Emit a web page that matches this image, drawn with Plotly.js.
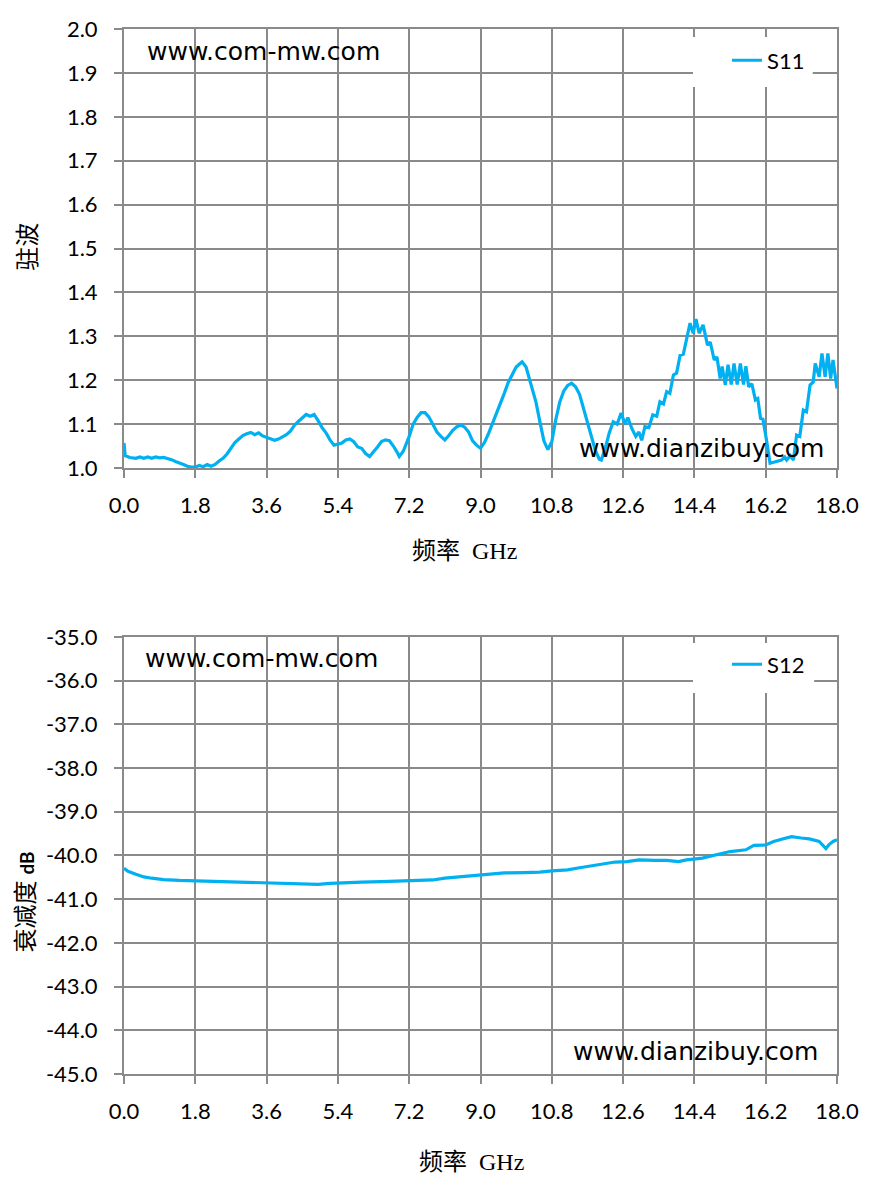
<!DOCTYPE html>
<html>
<head>
<meta charset="utf-8">
<script src="https://cdn.plot.ly/plotly-3.0.1.min.js"></script>
<style>
  html, body { margin: 0; padding: 0; background: #ffffff; }
  #chart { width: 877px; height: 1188px; }
</style>
</head>
<body>
<div id="chart"></div>
<script>
// S11 standing-wave ratio vs frequency (GHz)
const S11_FREQ = [
  0.00, 0.03, 0.15, 0.3, 0.4, 0.5, 0.6, 0.7, 0.8, 0.9, 1.0, 1.1, 1.2, 1.3, 1.4, 1.5, 1.6, 1.7, 1.8, 1.9,
  2.0, 2.1, 2.2, 2.3, 2.4, 2.5, 2.6, 2.7, 2.8, 2.9, 3.0, 3.1, 3.2, 3.3, 3.4, 3.5, 3.6, 3.7, 3.8, 3.9,
  4.0, 4.1, 4.2, 4.3, 4.4, 4.5, 4.6, 4.7, 4.8, 4.9, 5.0, 5.1, 5.2, 5.3, 5.4, 5.5, 5.6, 5.7, 5.8, 5.9,
  6.0, 6.1, 6.2, 6.3, 6.4, 6.5, 6.6, 6.7, 6.8, 6.9, 6.95, 7.05, 7.2, 7.3, 7.4, 7.5, 7.6, 7.7, 7.8, 7.9,
  8.0, 8.1, 8.2, 8.3, 8.4, 8.5, 8.6, 8.7, 8.8, 8.9, 9.0, 9.1, 9.2, 9.3, 9.4, 9.5, 9.6, 9.7, 9.8, 9.9,
  10.0, 10.05, 10.15, 10.3, 10.4, 10.5, 10.6, 10.7, 10.8, 10.9, 11.0, 11.1, 11.2, 11.3, 11.4, 11.5, 11.6, 11.7, 11.8, 11.9,
  12.0, 12.05, 12.15, 12.25, 12.35, 12.45, 12.55, 12.65, 12.72, 12.82, 12.92, 13.0, 13.07, 13.15, 13.25, 13.35, 13.45, 13.53, 13.62, 13.7,
  13.78, 13.87, 13.95, 14.04, 14.12, 14.2, 14.29, 14.37, 14.44, 14.52, 14.62, 14.73, 14.8, 14.9, 14.97, 15.05, 15.1, 15.18, 15.25, 15.33,
  15.4, 15.48, 15.56, 15.64, 15.7, 15.77, 15.85, 15.94, 16.0, 16.07, 16.13, 16.22, 16.31, 16.4, 16.5, 16.6, 16.68, 16.73, 16.82, 16.9,
  16.98, 17.06, 17.15, 17.23, 17.32, 17.4, 17.45, 17.55, 17.62, 17.7, 17.77, 17.84, 17.9, 18.0
];
const S11_VSWR = [
  1.057, 1.028, 1.024, 1.022, 1.025, 1.022, 1.025, 1.022, 1.025, 1.023, 1.024, 1.022, 1.019, 1.015, 1.012, 1.008, 1.004, 1.002, 1.002, 1.006,
  1.003, 1.008, 1.004, 1.008, 1.016, 1.022, 1.032, 1.045, 1.058, 1.066, 1.074, 1.078, 1.081, 1.076, 1.080, 1.073, 1.070, 1.066, 1.063, 1.066,
  1.070, 1.076, 1.084, 1.097, 1.106, 1.115, 1.122, 1.118, 1.122, 1.108, 1.092, 1.080, 1.064, 1.052, 1.055, 1.057, 1.064, 1.066, 1.060, 1.048,
  1.045, 1.033, 1.026, 1.036, 1.048, 1.060, 1.064, 1.062, 1.050, 1.035, 1.026, 1.038, 1.072, 1.100, 1.115, 1.126, 1.126, 1.116, 1.098, 1.082,
  1.072, 1.064, 1.074, 1.086, 1.094, 1.098, 1.093, 1.082, 1.062, 1.052, 1.045, 1.058, 1.078, 1.100, 1.125, 1.145, 1.170, 1.195, 1.212, 1.230,
  1.238, 1.242, 1.230, 1.185, 1.150, 1.105, 1.062, 1.042, 1.060, 1.110, 1.150, 1.175, 1.188, 1.193, 1.185, 1.168, 1.135, 1.105, 1.075, 1.040,
  1.020, 1.018, 1.045, 1.080, 1.105, 1.100, 1.125, 1.100, 1.115, 1.090, 1.072, 1.082, 1.063, 1.094, 1.092, 1.121, 1.118, 1.151, 1.146, 1.174,
  1.170, 1.212, 1.216, 1.257, 1.259, 1.292, 1.330, 1.307, 1.339, 1.307, 1.326, 1.280, 1.287, 1.246, 1.253, 1.204, 1.231, 1.189, 1.235, 1.190,
  1.238, 1.190, 1.238, 1.190, 1.232, 1.185, 1.192, 1.155, 1.158, 1.113, 1.111, 1.064, 1.011, 1.013, 1.015, 1.018, 1.025, 1.018, 1.028, 1.018,
  1.075, 1.072, 1.132, 1.128, 1.189, 1.196, 1.238, 1.208, 1.261, 1.208, 1.261, 1.204, 1.246, 1.181
];

// S12 attenuation (dB) vs frequency (GHz)
const S12_FREQ = [
  0.0, 0.1, 0.3, 0.5, 0.7, 1.0, 1.4, 1.8, 2.3, 2.8, 3.3, 3.8, 4.3, 4.9, 5.2, 5.6, 6.0, 6.5, 7.0, 7.5,
  7.8, 8.1, 8.6, 9.2, 9.6, 10.1, 10.5, 10.8, 11.2, 11.5, 12.0, 12.4, 12.7, 13.0, 13.4, 13.7, 14.0, 14.2, 14.6, 15.0,
  15.3, 15.7, 15.9, 16.2, 16.4, 16.6, 16.85, 17.1, 17.3, 17.55, 17.65, 17.72, 17.8, 17.9, 18.0
];
const S12_DB = [
  -40.29, -40.36, -40.43, -40.49, -40.52, -40.55, -40.57, -40.58, -40.59, -40.60, -40.61, -40.62, -40.63, -40.66, -40.64, -40.62, -40.61, -40.60, -40.59, -40.58,
  -40.56, -40.52, -40.48, -40.43, -40.40, -40.39, -40.38, -40.35, -40.33, -40.28, -40.20, -40.15, -40.14, -40.10, -40.11, -40.11, -40.14, -40.10, -40.06, -39.97,
  -39.91, -39.87, -39.77, -39.76, -39.68, -39.63, -39.57, -39.60, -39.62, -39.68, -39.78, -39.84, -39.75, -39.68, -39.64
];

const X_TICKS = [0, 1.8, 3.6, 5.4, 7.2, 9.0, 10.8, 12.6, 14.4, 16.2, 18.0];
const X_TICK_TEXT = ["0.0", "1.8", "3.6", "5.4", "7.2", "9.0", "10.8", "12.6", "14.4", "16.2", "18.0"];
const VSWR_TICKS = [1.0, 1.1, 1.2, 1.3, 1.4, 1.5, 1.6, 1.7, 1.8, 1.9, 2.0];
const VSWR_TICK_TEXT = ["1.0", "1.1", "1.2", "1.3", "1.4", "1.5", "1.6", "1.7", "1.8", "1.9", "2.0"];
const DB_TICKS = [-45, -44, -43, -42, -41, -40, -39, -38, -37, -36, -35];
const DB_TICK_TEXT = ["-45.0", "-44.0", "-43.0", "-42.0", "-41.0", "-40.0", "-39.0", "-38.0", "-37.0", "-36.0", "-35.0"];

const THEME = {
  line: "#00b0f0",
  grid: "#8a8a8a",
  ink: "#000000",
  tickFont: "Lato, \"Noto Sans\", sans-serif",
  markFont: "\"DejaVu Sans\", sans-serif",
  titleFont: "\"Liberation Serif\", \"Noto Sans CJK SC\", serif",
};

function xAxis(anchor) {
  return {
    anchor,
    range: [0, 18],
    tickmode: "array",
    tickvals: X_TICKS,
    ticktext: X_TICK_TEXT,
    showgrid: true,
    gridcolor: THEME.grid,
    gridwidth: 2,
    zeroline: false,
    showline: true,
    mirror: true,
    linecolor: THEME.grid,
    linewidth: 2,
    ticks: "outside",
    ticklen: 8,
    tickwidth: 2,
    tickcolor: THEME.grid,
    ticklabelstandoff: 9,
    tickfont: { family: THEME.tickFont, size: 22, color: THEME.ink },
    fixedrange: true,
  };
}

function yAxis(anchor, domain, range, vals, text) {
  return {
    anchor,
    domain,
    range,
    tickmode: "array",
    tickvals: vals,
    ticktext: text,
    showgrid: true,
    gridcolor: THEME.grid,
    gridwidth: 2,
    zeroline: false,
    showline: true,
    mirror: true,
    linecolor: THEME.grid,
    linewidth: 2,
    ticks: "outside",
    ticklen: 8,
    tickwidth: 2,
    tickcolor: THEME.grid,
    ticklabelstandoff: 12,
    tickfont: { family: THEME.tickFont, size: 22, color: THEME.ink },
    fixedrange: true,
  };
}

function note(text, x, y, opts = {}) {
  return {
    text,
    x,
    y,
    xref: "paper",
    yref: "paper",
    showarrow: false,
    xanchor: "left",
    yanchor: "middle",
    font: { family: THEME.markFont, size: 25, color: THEME.ink },
    ...opts,
  };
}

const titleFont = { family: THEME.titleFont, size: 24, color: THEME.ink };

const traces = [
  {
    type: "scatter",
    mode: "lines",
    name: "S11",
    x: S11_FREQ,
    y: S11_VSWR,
    xaxis: "x",
    yaxis: "y",
    line: { color: THEME.line, width: 3.2 },
    legend: "legend",
  },
  {
    type: "scatter",
    mode: "lines",
    name: "S12",
    x: S12_FREQ,
    y: S12_DB,
    xaxis: "x2",
    yaxis: "y2",
    line: { color: THEME.line, width: 3.2 },
    legend: "legend2",
  },
];

const legendBase = {
  bgcolor: "#ffffff",
  borderwidth: 0,
  xanchor: "left",
  yanchor: "top",
  font: { family: THEME.tickFont, size: 22, color: THEME.ink },
};

const layout = {
  width: 877,
  height: 1188,
  autosize: false,
  paper_bgcolor: "#ffffff",
  plot_bgcolor: "#ffffff",
  margin: { l: 124, r: 40, t: 29, b: 114 },
  showlegend: true,
  xaxis: xAxis("y"),
  yaxis: yAxis("x", [0.5799, 1], [1.0, 2.0], VSWR_TICKS, VSWR_TICK_TEXT),
  xaxis2: xAxis("y2"),
  yaxis2: yAxis("x2", [0, 0.4182], [-45, -35], DB_TICKS, DB_TICK_TEXT),
  legend: { ...legendBase, x: 0.8457, y: 0.99 },
  legend2: { ...legendBase, x: 0.8457, y: 0.412 },
  shapes: [
    // white panels behind the legends, over the grid
    { type: "rect", xref: "paper", yref: "paper", x0: 0.798, x1: 0.966, y0: 0.9445, y1: 0.9923, fillcolor: "#ffffff", line: { width: 0 }, layer: "above" },
    { type: "rect", xref: "paper", yref: "paper", x0: 0.798, x1: 0.968, y0: 0.3646, y1: 0.4124, fillcolor: "#ffffff", line: { width: 0 }, layer: "above" },
  ],
  annotations: [
    note("www.com-mw.com", 0.0295, 0.978),
    note("www.dianzibuy.com", 0.6353, 0.599),
    note("www.com-mw.com", 0.0266, 0.398),
    note("www.dianzibuy.com", 0.627, 0.022),
    note("频率\u2002GHz", 0.478, 0.5005, { xanchor: "center", font: titleFont }),
    note("频率\u2002GHz", 0.487, -0.0842, { xanchor: "center", font: titleFont }),
    note("驻波", -0.135, 0.7914, { xanchor: "center", textangle: -90, font: titleFont }),
    note("衰减度 <b><span style=\"font-family:Lato, sans-serif;font-size:19px\">dB</span></b>", -0.138, 0.1646,
      { xanchor: "center", textangle: -90, font: titleFont }),
  ],
};

Plotly.newPlot("chart", traces, layout, { displayModeBar: false, staticPlot: true });
</script>
</body>
</html>
